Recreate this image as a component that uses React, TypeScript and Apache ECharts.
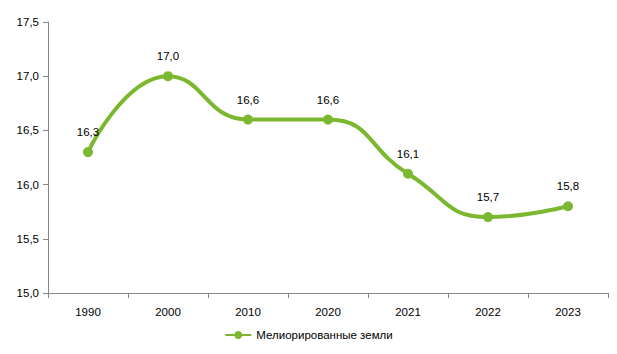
import React, { useEffect, useRef } from "react";
import * as echarts from "echarts";

const categories = ["1990", "2000", "2010", "2020", "2021", "2022", "2023"];
const values = [16.3, 17.0, 16.6, 16.6, 16.1, 15.7, 15.8];
const seriesName = "Мелиорированные земли";

const fmt = (v: number) => v.toFixed(1).replace(".", ",");

export default function App() {
  const ref = useRef<HTMLDivElement>(null);
  useEffect(() => {
    if (!ref.current) return;
    const chart = echarts.init(ref.current, null, { renderer: "svg" });
    const font = "'Liberation Sans', Arial, sans-serif";
    const axisColor = "#868686";
    chart.setOption({
      animation: false,
      textStyle: { fontFamily: font },
      grid: { left: 48, right: 9, top: 22, bottom: 61 },
      xAxis: {
        type: "category",
        data: categories,
        boundaryGap: true,
        axisLine: { lineStyle: { color: axisColor, width: 1 } },
        axisTick: { show: true, length: 5, lineStyle: { color: axisColor } },
        axisLabel: { color: "#000", fontSize: 11.5, margin: 13, fontFamily: font },
        splitLine: { show: false },
      },
      yAxis: {
        type: "value",
        min: 15,
        max: 17.5,
        interval: 0.5,
        axisLine: { show: true, lineStyle: { color: axisColor, width: 1 } },
        axisTick: { show: true, length: 5, lineStyle: { color: axisColor } },
        axisLabel: {
          color: "#000",
          fontSize: 11.5,
          margin: 9,
          fontFamily: font,
          formatter: (v: number) => fmt(v),
        },
        splitLine: { show: false },
      },
      legend: {
        bottom: 8,
        left: "center",
        itemWidth: 26,
        itemHeight: 10,
        itemGap: 4,
        textStyle: { color: "#000", fontSize: 11.5, fontFamily: font },
        data: [seriesName],
      },
      series: [
        {
          name: seriesName,
          type: "line",
          data: values,
          smooth: 0.5,
          symbol: "circle",
          symbolSize: 10,
          lineStyle: { color: "#7CB82F", width: 4 },
          itemStyle: { color: "#7CB82F" },
          label: {
            show: true,
            position: "top",
            distance: 9,
            color: "#000",
            fontSize: 11.5,
            fontFamily: font,
            formatter: (p: any) => fmt(p.value),
          },
        },
      ],
    });
    return () => chart.dispose();
  }, []);
  return <div ref={ref} style={{ width: 617, height: 354, margin: -8 }} />;
}
